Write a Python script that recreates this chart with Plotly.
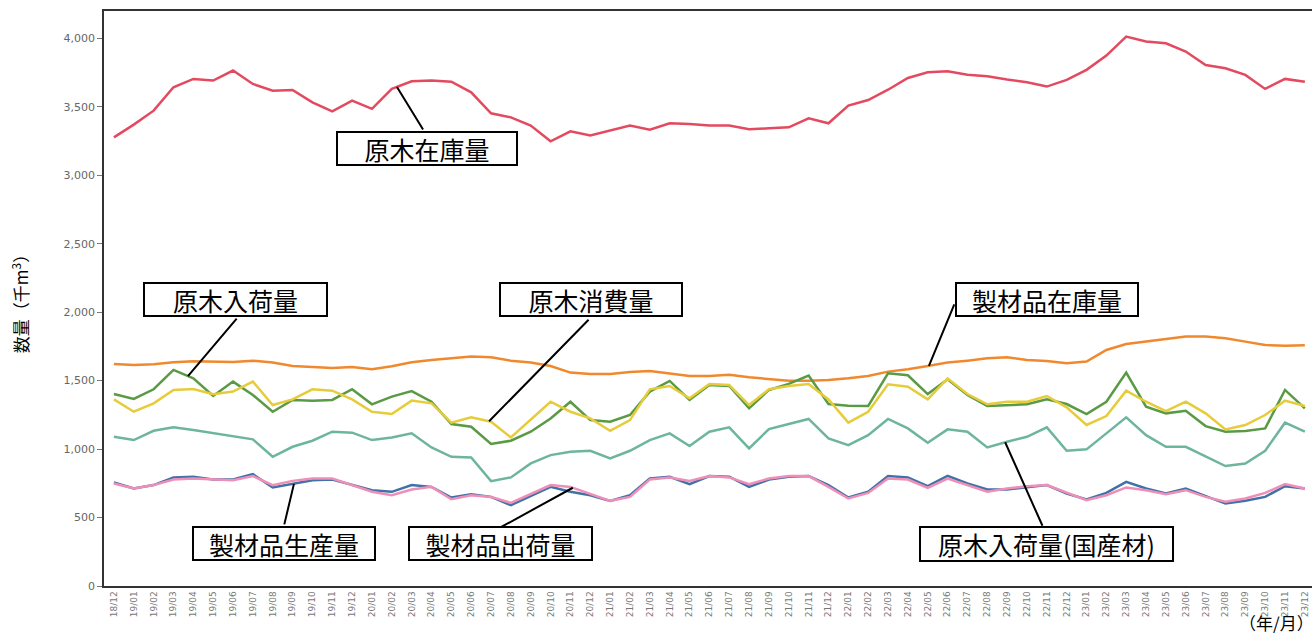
import numpy as np
import plotly.graph_objects as go

# Month labels 18/12 .. 23/12
months = ["18/12"] + [f"{y:02d}/{m:02d}" for y in range(19, 24) for m in range(1, 13)]
idx = list(range(len(months)))

genboku_zaiko = [3277,3370,3472,3643,3704,3692,3765,3667,3618,3623,
                 3533,3467,3545,3485,3631,3687,3692,3684,3606,3453,
                 3423,3363,3248,3321,3290,3326,3363,3333,3380,3375,
                 3363,3363,3336,3343,3350,3416,3380,3509,3550,3625,
                 3711,3752,3760,3735,3723,3699,3679,3648,3697,3770,
                 3874,4013,3977,3964,3904,3806,3782,3733,3631,3704,3684]

seizai_zaiko = [1622,1615,1620,1634,1641,1639,1637,1646,1632,1607,1602,1593,1600,1583,1605,1634,
                1651,1663,1676,1671,1646,1632,1607,1559,1549,1549,1563,1571,1554,1534,1534,1543,
                1524,1510,1500,1500,1505,1517,1534,1566,1583,1607,1632,1646,1663,1671,1651,
                1644,1627,1639,1724,1768,1785,1802,1822,1822,1810,1785,1761,1754,1759]

genboku_nyuka = [1402,1366,1437,1578,1517,1388,1493,1395,1273,1359,1354,1359,1437,1327,1383,1424,
                 1346,1183,1163,1037,1061,1127,1224,1346,1212,1200,1249,1420,1498,1359,1468,1461,
                 1298,1432,1476,1537,1329,1317,1315,1554,1539,1402,1510,1395,1315,1322,1327,
                 1363,1329,1256,1346,1559,1310,1261,1280,1168,1127,1132,1151,1432,1298]

genboku_shohi = [1363,1273,1334,1432,1439,1400,1420,1493,1322,1363,1437,1427,1363,1273,1256,1354,
                 1334,1193,1232,1200,1085,1212,1346,1273,1224,1134,1212,1437,1461,1371,1476,1468,
                 1322,1437,1461,1476,1363,1193,1273,1473,1456,1363,1517,1402,1327,1346,1346,
                 1388,1305,1176,1241,1427,1346,1278,1346,1261,1144,1176,1249,1354,1315]

genboku_kokusan = [1090,1066,1134,1159,1139,1115,1095,1071,944,1017,1061,1127,1120,1066,1085,1115,
                   1012,944,939,766,793,895,956,980,988,932,988,1066,1115,1022,1127,1159,
                   1005,1146,1183,1220,1078,1029,1102,1220,1151,1046,1144,1127,1012,1054,1090,
                   1159,988,998,1115,1232,1102,1017,1017,944,876,895,988,1193,1127]

seizai_seisan = [756,712,737,793,798,778,778,817,720,744,773,778,737,700,688,737,
                 724,646,671,651,590,656,724,688,663,622,663,785,798,744,803,798,
                 724,778,798,803,737,646,688,803,793,729,805,749,705,705,720,
                 737,676,632,680,761,712,676,712,659,602,622,651,729,712]

seizai_shukka = [749,712,737,778,785,778,773,803,737,768,785,785,737,688,663,705,
                 724,634,663,651,607,671,737,724,671,622,651,778,793,768,803,793,
                 744,785,803,803,724,639,680,785,778,717,785,737,688,712,729,
                 737,680,627,663,720,700,671,700,651,615,639,680,744,712]

series = [
    ("原木在庫量", genboku_zaiko, "#e34a5f"),
    ("製材品在庫量", seizai_zaiko, "#f0892e"),
    ("原木入荷量(国産材)", genboku_kokusan, "#6db59e"),
    ("原木入荷量", genboku_nyuka, "#5a9a45"),
    ("原木消費量", genboku_shohi, "#e6cc3a"),
    ("製材品生産量", seizai_seisan, "#4072a8"),
    ("製材品出荷量", seizai_shukka, "#ef8fb8"),
]

fig = go.Figure()
for name, vals, col in series:
    fig.add_trace(go.Scatter(x=idx, y=vals, mode="lines", name=name,
                             line=dict(color=col, width=2.5)))

JP = "Noto Sans CJK JP"

# label boxes: (text, paper x, paper y, width, height)
boxes = [
    ("原木在庫量", 0.2674, 0.7609, 180, 33),
    ("原木入荷量", 0.1089, 0.4983, 183, 33),
    ("原木消費量", 0.4031, 0.4991, 182, 33),
    ("製材品在庫量", 0.7806, 0.4991, 182, 33),
    ("製材品生産量", 0.1490, 0.0739, 182, 33),
    ("製材品出荷量", 0.3282, 0.0739, 183, 33),
    ("原木入荷量(国産材)", 0.7802, 0.0730, 253, 34),
]
annotations = []
for text, px, py, w, h in boxes:
    annotations.append(dict(text=text, xref="paper", yref="paper", x=px, y=py,
                            xanchor="center", yanchor="middle", showarrow=False,
                            font=dict(family=JP, size=25, color="black"),
                            bgcolor="white", bordercolor="black", borderwidth=2,
                            borderpad=0, width=w - 2, height=h - 2))

# leader lines: (series values, x position, tail offset ax, ay)
leaders = [
    (genboku_zaiko, 14.26, 27, 44),
    (genboku_nyuka, 3.73, 50, -59),
    (genboku_shohi, 18.9, 101, -103),
    (seizai_zaiko, 41.06, 26, -63),
    (seizai_seisan, 9.07, -10, 42),
    (seizai_shukka, 23.12, -73, 40),
    (genboku_kokusan, 44.9, 38, 85),
]
for vals, xi, ax, ay in leaders:
    yv = float(np.interp(xi, idx, vals))
    annotations.append(dict(text="", x=xi, y=yv, xref="x", yref="y",
                            showarrow=True, arrowhead=0, arrowwidth=2,
                            arrowcolor="black", ax=ax, ay=ay, standoff=0,
                            startstandoff=0))

annotations.append(dict(text="数量（千m<sup>3</sup>）", xref="paper", yref="paper",
                        x=0, y=0.497, xshift=-84, textangle=-90, showarrow=False,
                        xanchor="center", yanchor="middle",
                        font=dict(family=JP, size=17, color="black")))
annotations.append(dict(text="（年/月）", xref="paper", yref="paper",
                        x=0.971, y=-0.064, showarrow=False,
                        xanchor="center", yanchor="middle",
                        font=dict(family=JP, size=17, color="black")))

fig.update_layout(
    width=1313, height=637,
    margin=dict(l=104, r=1, t=11, b=51),
    paper_bgcolor="white", plot_bgcolor="white",
    showlegend=False,
    annotations=annotations,
    xaxis=dict(range=[-0.5, 60.36], tickmode="array", tickvals=idx, ticktext=months,
               tickangle=-90, tickfont=dict(family="DejaVu Sans", size=9, color="#777"),
               showgrid=False, zeroline=False, showline=True, linecolor="#333",
               linewidth=1.5, mirror=True, ticks=""),
    yaxis=dict(range=[0, 4200], tickvals=[0, 500, 1000, 1500, 2000, 2500, 3000, 3500, 4000],
               tickformat=",", tickfont=dict(family="DejaVu Sans", size=11, color="#666"),
               showgrid=False, zeroline=False, showline=True, linecolor="#333",
               linewidth=1.5, ticks="outside", ticklen=5, tickcolor="#777"),
)

fig.write_html("out.html", config={"displayModeBar": False},
               post_script="document.body.style.margin='0px';document.body.style.padding='0px';")
